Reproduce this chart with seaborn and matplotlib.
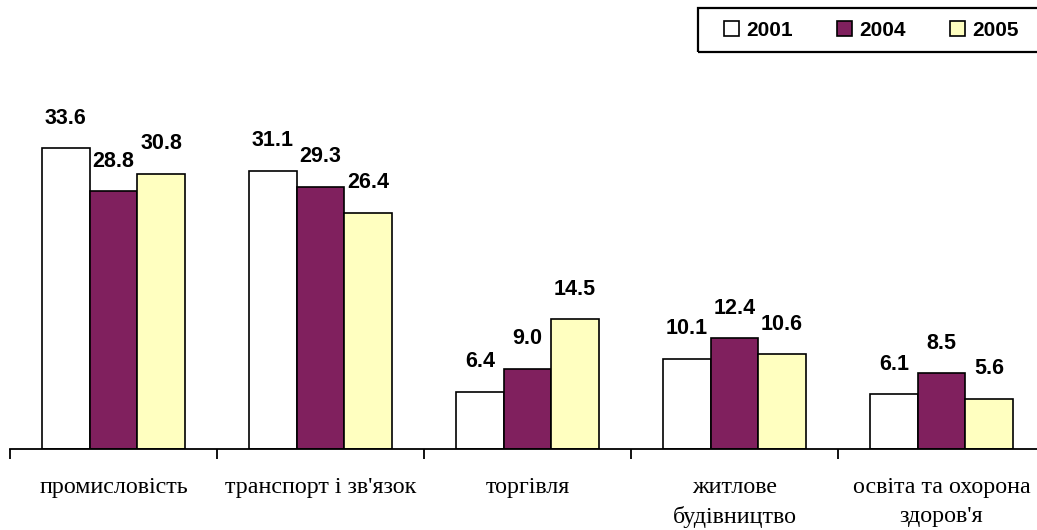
import numpy as np
import pandas as pd
import matplotlib
matplotlib.use("Agg")
import matplotlib.pyplot as plt
import matplotlib.patches as mpatches
import seaborn as sns

categories = ["промисловість", "транспорт і зв'язок", "торгівля",
              "житлове\nбудівництво", "освіта та охорона\nздоров'я"]
years = ["2001", "2004", "2005"]
vals_2001 = [33.6, 31.1, 6.4, 10.1, 6.1]
vals_2004 = [28.8, 29.3, 9.0, 12.4, 8.5]
vals_2005 = [30.8, 26.4, 14.5, 10.6, 5.6]
colors = ["#FFFFFF", "#80205E", "#FFFFC0"]

df = pd.DataFrame({
    "cat": categories * 3,
    "year": [y for y in years for _ in categories],
    "val": vals_2001 + vals_2004 + vals_2005,
})

sns.set_style("white")
plt.rcParams["font.family"] = ["Liberation Sans", "DejaVu Sans"]
plt.rcParams["text.color"] = "black"
plt.rcParams["xtick.color"] = "black"

W, H = 1037, 530
fig = plt.figure(figsize=(W / 100, H / 100), dpi=100)
ax = fig.add_axes([10 / W, 81 / H, 1035 / W, 449 / H])

sns.barplot(data=df, x="cat", y="val", hue="year", palette=colors,
            edgecolor="black", linewidth=1.2, width=0.69, gap=0,
            saturation=1, ax=ax, legend=True)

for cont in ax.containers:
    ax.bar_label(cont, fmt="%.1f", padding=14, fontsize=15.5,
                 fontweight="bold", color="black")

ax.set_xlim(-0.5, 4.5)
ax.set_ylim(0, 50.2)
for s in ["top", "right", "left"]:
    ax.spines[s].set_visible(False)
ax.spines["bottom"].set_linewidth(1.3)
ax.spines["bottom"].set_color("black")
ax.set_yticks([])
ax.set_xlabel("")
ax.set_ylabel("")

ax.set_xticks(np.arange(len(categories)))
ax.set_xticklabels(categories, family=["Liberation Serif", "DejaVu Serif"],
                   fontsize=17.3, linespacing=1.5, color="black")
ax.tick_params(axis="x", which="major", length=0, pad=20)
ax.set_xticks(np.arange(-0.5, len(categories)), minor=True)
ax.tick_params(axis="x", which="minor", bottom=True, length=7, width=1.3,
               direction="out", color="black")

# legend: frame drawn separately so it can run past the right edge
handles, labels = ax.get_legend_handles_labels()
ax.get_legend().remove()
fig.patches.append(mpatches.Rectangle((698 / W, 1 - 52 / H), 360 / W, 44 / H,
                                      transform=fig.transFigure, fill=False,
                                      edgecolor="black", linewidth=1.6))
leg = fig.legend(handles, labels, loc="center left",
                 bbox_to_anchor=(724 / W, 1 - 30 / H), ncol=3,
                 prop={"weight": "bold", "size": 15},
                 handlelength=0.7, handleheight=0.7, handletextpad=0.35,
                 columnspacing=2.15, borderpad=0, borderaxespad=0,
                 frameon=False)

fig.savefig("out.png", dpi=100)
